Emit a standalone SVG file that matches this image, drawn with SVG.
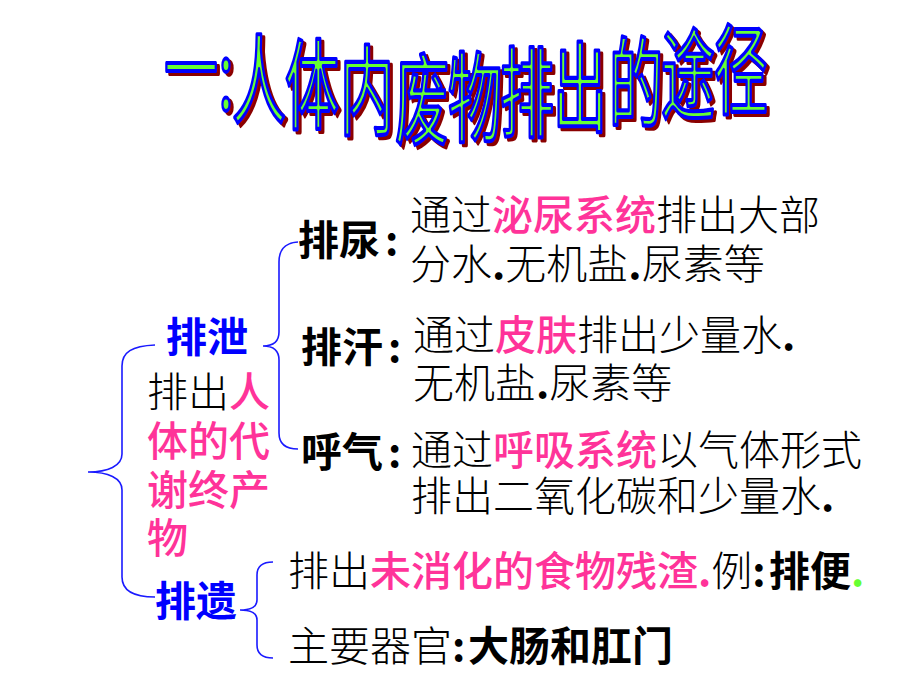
<svg xmlns="http://www.w3.org/2000/svg" width="920" height="690" viewBox="0 0 920 690">
<style>
.t{font-family:"Noto Sans CJK SC","Noto Sans CJK JP",sans-serif;font-size:41px}
.sr{font-weight:300;fill:#000}
.bd{font-weight:700;fill:#000}
.pk{fill:#ff3399;font-weight:500}
.bl{fill:#0000ff;font-weight:700}
.dt{font-weight:700}
.ti{font-family:"Noto Sans CJK SC","Noto Sans CJK JP",sans-serif;font-size:54px;font-weight:400;text-anchor:middle}
.ti text{vector-effect:non-scaling-stroke}
.tf{fill:#66ff33;stroke:#0000ff;stroke-width:2.3;stroke-linejoin:round}
.ts{fill:#b00000;stroke:#8a0000;stroke-width:2.3;stroke-linejoin:round}
.br{fill:none;stroke:#1a1aff;stroke-width:1.6}
</style>
<rect width="920" height="690" fill="#fff"/>
<defs>
<g id="title-glyphs">
<text transform="translate(191,105) scale(1,1.8)">一</text>
<text transform="translate(226,110) scale(1,1.8)">:</text>
<text transform="translate(259,116) scale(1,1.8)">人</text>
<text transform="translate(312,121) scale(1,1.8)">体</text>
<text transform="translate(367,127) scale(1,1.8)">内</text>
<text transform="translate(422,136) scale(1,1.8)">废</text>
<text transform="translate(475,134) scale(1,1.8)">物</text>
<text transform="translate(527,129) scale(1,1.8)">排</text>
<text transform="translate(580,124) scale(1,1.8)">出</text>
<text transform="translate(636,119) scale(1,1.8)">的</text>
<text transform="translate(688,111) scale(1,1.8)">途</text>
<text transform="translate(741,106) scale(1,1.8)">径</text>
</g>
</defs>
<g id="title" class="ti">
<use href="#title-glyphs" class="ts" transform="translate(3,3)"/>
<use href="#title-glyphs" class="tf"/>
</g>
<g id="connectors">
<path class="br" d="M155,345 C132,346 122,352 122,366 L122,454 C122,466 108,472 88,472 C108,472 122,478 122,490 L122,577 C122,590 132,597 155,597"/>
<path class="br" d="M298,242 C284,243 279,250 279,262 L279,332 C279,341 274,346 263,346 C274,346 279,351 279,360 L279,433 C279,443 285,449 298,449"/>
<path class="br" d="M273,562 C262,562 257,566 257,575 L257,600 C257,606 252,610 240,610 C252,610 257,614 257,620 L257,645 C257,654 262,658 273,658"/>
</g>
<g id="node-paixie"><text class="t bl" x="166" y="352">排泄</text></g>
<g id="node-desc">
<text class="t" x="147" y="407"><tspan class="sr">排出</tspan><tspan class="pk">人</tspan></text>
<text class="t pk" x="147" y="456">体的代</text>
<text class="t pk" x="147" y="505">谢终产</text>
<text class="t pk" x="147" y="553">物</text>
</g>
<g id="node-paiyi"><text class="t bl" x="155" y="616">排遗</text></g>
<g id="node-painiao">
<text class="t bd" x="298" y="255">排尿</text><text class="t bd" x="385" y="255">:</text>
<text class="t sr" x="410" y="230">通过<tspan class="pk">泌尿系统</tspan>排出大部</text>
<text class="t sr" x="410" y="279">分<tspan>水</tspan><tspan class="dt">.</tspan>无机盐<tspan class="dt">.</tspan>尿素等</text>
</g>
<g id="node-paihan">
<text class="t bd" x="301" y="362">排汗</text><text class="t bd" x="388" y="362">:</text>
<text class="t sr" x="413" y="350">通过<tspan class="pk">皮肤</tspan>排出少量水<tspan class="dt">.</tspan></text>
<text class="t sr" x="413" y="398">无机盐<tspan class="dt">.</tspan>尿素等</text>
</g>
<g id="node-huqi">
<text class="t bd" x="301" y="467">呼气</text><text class="t bd" x="388" y="467">:</text>
<text class="t sr" x="411" y="465">通过<tspan class="pk">呼吸系统</tspan>以气体形式</text>
<text class="t sr" x="411" y="511">排出二氧化碳和少量水<tspan class="dt">.</tspan></text>
</g>
<g id="node-feces">
<text class="t sr" x="288" y="586">排出<tspan class="pk">未消化的食物残渣</tspan><tspan class="pk dt">.</tspan>例<tspan class="dt">:</tspan><tspan class="bd" x="769">排便</tspan><tspan style="fill:#66ff33;font-weight:700">.</tspan></text>
</g>
<g id="node-organ">
<text class="t sr" x="288" y="661">主要器官<tspan class="dt">:</tspan><tspan class="bd" x="468">大肠和肛门</tspan></text>
</g>
</svg>
